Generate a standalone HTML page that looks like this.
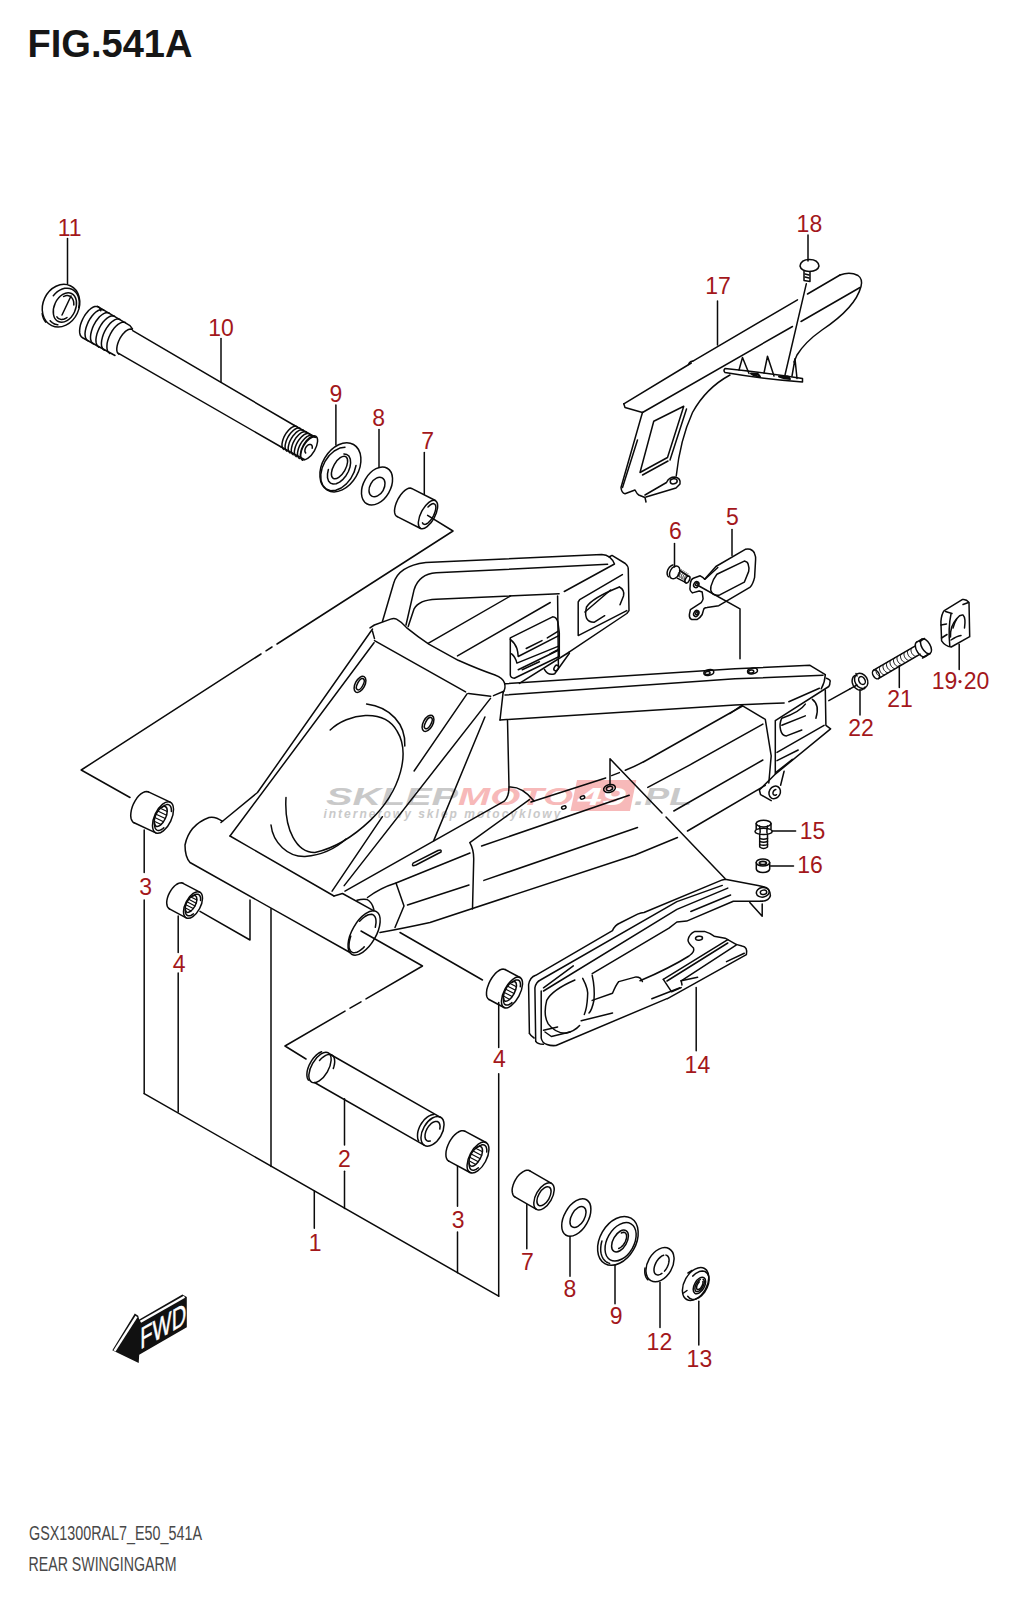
<!DOCTYPE html>
<html><head><meta charset="utf-8"><style>
html,body{margin:0;padding:0;background:#fff;}
svg{display:block;}
.l{font-family:"Liberation Sans",sans-serif;font-size:23px;fill:#a3171b;text-anchor:middle;}
.d{fill:none;stroke:#0a0a0a;stroke-width:1.5;stroke-linecap:round;stroke-linejoin:round;}
</style></head><body>
<svg width="1020" height="1600" viewBox="0 0 1020 1600">
<rect width="1020" height="1600" fill="#fff"/>
<text x="27.5" y="57" font-family="Liberation Sans" font-weight="bold" font-size="39.5" fill="#161616" textLength="165" lengthAdjust="spacingAndGlyphs">FIG.541A</text>
<text x="29" y="1539.5" font-family="Liberation Sans" font-size="19.5" fill="#484848" textLength="173" lengthAdjust="spacingAndGlyphs">GSX1300RAL7_E50_541A</text>
<text x="28.5" y="1571" font-family="Liberation Sans" font-size="19.5" fill="#484848" textLength="148" lengthAdjust="spacingAndGlyphs">REAR SWINGINGARM</text>
<g class="l">
<text x="69.7" y="235.6">11</text>
<text x="221" y="335.5">10</text>
<text x="335.8" y="402">9</text>
<text x="378.6" y="425.8">8</text>
<text x="427.6" y="448.8">7</text>
<text x="718.1" y="294">17</text>
<text x="809.4" y="231.5">18</text>
<text x="675.5" y="539">6</text>
<text x="732.5" y="525.3">5</text>
<text x="900" y="707.3">21</text>
<text x="861" y="735.6">22</text>
<text x="812.5" y="839">15</text>
<text x="810" y="872.8">16</text>
<text x="145.6" y="895.3">3</text>
<text x="179.2" y="972.4">4</text>
<text x="697.4" y="1072.8">14</text>
<text x="499.4" y="1067.3">4</text>
<text x="344.4" y="1166.5">2</text>
<text x="458.1" y="1227.8">3</text>
<text x="315.2" y="1251.2">1</text>
<text x="527.5" y="1269.8">7</text>
<text x="570" y="1297.3">8</text>
<text x="616.2" y="1324">9</text>
<text x="659.4" y="1349.8">12</text>
<text x="699.4" y="1366.5">13</text>
<text x="944.5" y="689.3">19</text>
<text x="976.5" y="689.3">20</text>
</g>
<circle cx="960" cy="681.6" r="1.6" fill="#a3171b"/>
<!-- watermark -->
<g font-family="Liberation Sans" font-weight="bold" font-style="italic">
<text x="326" y="804.5" font-size="23" fill="#c9c9c9" textLength="132" lengthAdjust="spacingAndGlyphs">SKLEP</text>
<text x="458" y="804.5" font-size="23" fill="#f7b9b9" textLength="115" lengthAdjust="spacingAndGlyphs">MOTO</text>
<polygon points="577,780 636.3,780 630,811 570.5,811" fill="#f7b9b9"/>
<text x="578" y="804.5" font-size="23" fill="#ffffff" textLength="48" lengthAdjust="spacingAndGlyphs">49</text>
<text x="634" y="804.5" font-size="23" fill="#c9c9c9" textLength="58" lengthAdjust="spacingAndGlyphs">.PL</text>
<text x="323.4" y="818" font-size="12" fill="#c9c9c9" textLength="237" lengthAdjust="spacing">internetowy sklep motocyklowy</text>
</g>
<!-- FWD -->
<polygon points="112.3,1350.3 134.8,1313.5 138.2,1315.8 139.2,1319.4 182.4,1294.4 186.8,1296.9 186.8,1327.3 139.2,1354.7 138.7,1363" fill="#111"/>
<line x1="136.5" y1="1316.5" x2="114.5" y2="1350.8" stroke="#fff" stroke-width="2.4"/>
<line x1="140.5" y1="1321.8" x2="184.5" y2="1296.8" stroke="#fff" stroke-width="2.4"/>
<text transform="matrix(0.866,-0.5,0,1,140.3,1349.5)" font-family="Liberation Sans" font-size="30" fill="#fff" stroke="#fff" stroke-width="0.5" textLength="53" lengthAdjust="spacingAndGlyphs">FWD</text>

<g class="d">
<path d="M67.5,238.5 L67.5,284.0"/>
<path d="M221.0,338.5 L221.0,382.0"/>
<path d="M335.9,405.0 L335.9,445.0"/>
<path d="M379.0,429.5 L379.0,467.5"/>
<path d="M424.3,452.5 L424.3,494.5"/>
<path d="M732.0,529.5 L732.0,555.5"/>
<path d="M674.5,543.5 L674.5,567.0"/>
<path d="M717.5,301.0 L717.5,345.0"/>
<path d="M808.0,235.0 L808.0,261.0"/>
<path d="M959.2,644.3 L959.2,669.4"/>
<path d="M899.3,665.5 L899.3,687.5"/>
<path d="M860.0,690.0 L860.0,715.0"/>
<path d="M772.0,831.0 L795.6,831.0"/>
<path d="M770.6,865.9 L793.5,865.9"/>
<path d="M696.2,987.5 L696.2,1050.8"/>
<path d="M427.6,515.3 L453.0,531.0 L277.0,644.0"/>
<path d="M272.0,647.0 L266.0,650.8"/>
<path d="M261.0,654.0 L81.2,770.0 L130.0,797.5"/>
<path d="M200.0,911.3 L250.0,940.0 L250.0,900.0"/>
<path d="M144.2,830.0 L144.2,872.5"/>
<path d="M144.2,900.0 L144.2,1093.6"/>
<path d="M178.2,916.0 L178.2,952.4"/>
<path d="M178.2,973.0 L178.2,1112.0"/>
<path d="M271.0,908.8 L271.0,1166.5"/>
<path d="M314.3,1191.0 L314.3,1228.2"/>
<path d="M344.5,1098.8 L344.5,1145.0"/>
<path d="M344.5,1171.3 L344.5,1208.5"/>
<path d="M457.5,1166.3 L457.5,1206.3"/>
<path d="M457.5,1232.0 L457.5,1272.7"/>
<path d="M498.7,1002.5 L498.7,1047.5"/>
<path d="M498.7,1073.8 L498.7,1296.2"/>
<path d="M144.2,1093.6 L498.7,1296.2"/>
<path d="M361.0,931.0 L422.5,966.0 L366.0,998.9"/>
<path d="M361.0,1001.8 L350.0,1008.2"/>
<path d="M345.0,1011.1 L285.0,1046.0 L306.0,1059.0"/>
<path d="M400.0,932.5 L482.5,980.0"/>
<path d="M850.0,688.8 L857.0,685.0"/>
<path d="M699.0,586.0 L740.0,608.8 L740.0,658.8"/>
<path d="M806.3,283.8 L785.0,375.0"/>
<path d="M526.8,1204.5 L526.8,1248.8"/>
<path d="M570.0,1236.5 L570.0,1276.3"/>
<path d="M615.0,1265.0 L615.0,1303.8"/>
<path d="M660.0,1282.5 L660.0,1327.5"/>
<path d="M698.8,1301.3 L698.8,1345.0"/>
<path d="M610.0,785.0 L610.0,758.8 L662.0,812.9"/>
<path d="M666.0,817.0 L725.0,878.5"/>
<ellipse cx="61.0" cy="305.7" rx="22.0" ry="18.0" transform="rotate(-65 61.0 305.7)"/>
<path d="M53.3,295.7 L55.3,293.5 L57.4,291.6 L59.8,290.1 L62.2,289.0 L64.7,288.3 L67.2,288.2 L69.6,288.5 L71.8,289.2 L73.9,290.5 L75.6,292.1 L77.1,294.1 L78.2,296.4 L78.9,299.0 L79.3,301.8 L79.2,304.7 L78.7,307.6"/>
<path d="M57.8,324.8 L57.3,324.7 L56.7,324.6 L56.2,324.5 L55.7,324.3 L55.1,324.2 L54.6,324.0 L54.1,323.7 L53.6,323.5 L53.1,323.2 L52.7,322.9 L52.2,322.6 L51.8,322.2 L51.3,321.9 L50.9,321.5 L50.5,321.1 L50.2,320.7"/>
<ellipse cx="64.9" cy="307.5" rx="15.5" ry="10.6" transform="rotate(-65 64.9 307.5)"/>
<path d="M63.6,296.5 L64.6,296.1 L65.6,295.8 L66.6,295.6 L67.6,295.6 L68.5,295.8 L69.4,296.0 L70.3,296.4 L71.0,297.0 L71.7,297.6 L72.3,298.4 L72.8,299.3 L73.2,300.3 L73.6,301.4 L73.7,302.5 L73.8,303.7 L73.8,304.9"/>
<path d="M67.0,317.5 L66.3,318.0 L65.6,318.4 L64.9,318.7 L64.2,319.0 L63.5,319.2 L62.8,319.3 L62.1,319.4 L61.4,319.4 L60.7,319.3 L60.1,319.2 L59.5,318.9 L58.9,318.7 L58.3,318.3 L57.8,317.9 L57.3,317.4 L56.9,316.9"/>
<path d="M71.0,296.0 L62.0,315.0"/>
<path d="M45.7,322.1 L45.4,321.6 L45.0,321.2 L44.7,320.7 L44.4,320.3 L44.2,319.8 L43.9,319.3 L43.6,318.7 L43.4,318.2 L43.2,317.7 L43.0,317.1 L42.8,316.5 L42.7,316.0 L42.5,315.4 L42.4,314.8 L42.3,314.2 L42.2,313.6"/>
<path d="M82.4,337.6 L81.2,336.6 L80.2,335.0 L79.7,332.9 L79.6,330.5 L79.9,327.7 L80.5,324.7 L81.6,321.6 L83.0,318.5 L84.7,315.5 L86.6,312.9 L88.6,310.5 L90.7,308.7 L92.8,307.3 L94.8,306.5 L96.6,306.4 L98.2,306.8"/>
<path d="M98.2,306.8 L98.4,306.9 L98.6,307.1 L98.8,307.2 L99.0,307.4 L99.2,307.6 L99.4,307.8 L99.6,308.0 L99.8,308.3 L99.9,308.5 L100.1,308.8 L100.2,309.1 L100.4,309.4 L100.5,309.7 L100.6,310.0 L100.7,310.4 L100.8,310.7"/>
<path d="M87.9,340.8 L86.6,339.7 L85.7,338.2 L85.2,336.1 L85.0,333.6 L85.3,330.8 L86.0,327.8 L87.1,324.7 L88.4,321.6 L90.1,318.7 L92.0,316.0 L94.0,313.7 L96.1,311.8 L98.2,310.5 L100.2,309.7 L102.0,309.5 L103.6,309.9"/>
<path d="M93.4,343.9 L92.1,342.9 L91.2,341.3 L90.6,339.2 L90.5,336.8 L90.8,334.0 L91.5,331.0 L92.5,327.9 L93.9,324.8 L95.6,321.8 L97.5,319.2 L99.5,316.8 L101.6,315.0 L103.7,313.6 L105.7,312.8 L107.5,312.7 L109.1,313.1"/>
<path d="M98.8,347.1 L97.5,346.0 L96.6,344.5 L96.1,342.4 L95.9,339.9 L96.2,337.1 L96.9,334.1 L98.0,331.0 L99.4,327.9 L101.0,325.0 L102.9,322.3 L105.0,320.0 L107.1,318.1 L109.1,316.8 L111.1,316.0 L112.9,315.8 L114.5,316.2"/>
<path d="M104.3,350.2 L103.0,349.2 L102.1,347.6 L101.5,345.5 L101.4,343.1 L101.7,340.3 L102.4,337.3 L103.4,334.2 L104.8,331.1 L106.5,328.1 L108.4,325.5 L110.4,323.1 L112.5,321.3 L114.6,319.9 L116.6,319.1 L118.4,319.0 L120.0,319.4"/>
<path d="M109.7,353.4 L108.5,352.3 L107.5,350.8 L107.0,348.7 L106.9,346.2 L107.1,343.4 L107.8,340.4 L108.9,337.3 L110.3,334.2 L111.9,331.3 L113.8,328.6 L115.9,326.3 L118.0,324.4 L120.1,323.1 L122.0,322.3 L123.9,322.1 L125.4,322.5"/>
<path d="M97.5,306.4 L130.0,325.6 L132.5,329.0"/>
<path d="M83.0,338.0 L115.0,355.5"/>
<path d="M118.9,354.2 L117.9,353.3 L117.2,352.1 L116.8,350.4 L116.8,348.4 L117.1,346.1 L117.7,343.7 L118.6,341.2 L119.8,338.7 L121.2,336.4 L122.7,334.3 L124.4,332.4 L126.1,330.9 L127.8,329.8 L129.4,329.2 L130.8,329.1 L132.1,329.4"/>
<path d="M132.7,330.7 L294.5,425.5"/>
<path d="M118.6,353.4 L281.2,447.0"/>
<path d="M294.5,425.5 L314.9,437.0"/>
<path d="M281.2,447.0 L304.7,459.6"/>
<path d="M283.9,449.4 L283.0,448.6 L282.3,447.4 L282.0,445.8 L282.0,443.9 L282.4,441.8 L283.0,439.5 L283.9,437.2 L285.1,434.9 L286.5,432.7 L288.1,430.8 L289.7,429.1 L291.4,427.7 L293.0,426.8 L294.5,426.3 L295.9,426.2 L297.1,426.6"/>
<path d="M287.0,451.2 L286.1,450.4 L285.4,449.2 L285.1,447.6 L285.1,445.7 L285.5,443.6 L286.1,441.3 L287.0,439.0 L288.2,436.7 L289.6,434.5 L291.2,432.6 L292.8,430.9 L294.5,429.5 L296.1,428.6 L297.6,428.1 L299.0,428.0 L300.2,428.4"/>
<path d="M290.1,453.0 L289.2,452.2 L288.5,451.0 L288.2,449.4 L288.2,447.5 L288.6,445.4 L289.2,443.1 L290.1,440.8 L291.3,438.5 L292.7,436.3 L294.3,434.4 L295.9,432.7 L297.6,431.3 L299.2,430.4 L300.7,429.9 L302.1,429.8 L303.3,430.2"/>
<path d="M293.2,454.8 L292.3,454.0 L291.6,452.8 L291.3,451.2 L291.3,449.3 L291.7,447.2 L292.3,444.9 L293.2,442.6 L294.4,440.3 L295.8,438.1 L297.4,436.2 L299.0,434.5 L300.7,433.1 L302.3,432.2 L303.8,431.7 L305.2,431.6 L306.4,432.0"/>
<path d="M296.3,456.6 L295.4,455.8 L294.7,454.6 L294.4,453.0 L294.4,451.1 L294.8,449.0 L295.4,446.7 L296.3,444.4 L297.5,442.1 L298.9,439.9 L300.5,438.0 L302.1,436.3 L303.8,434.9 L305.4,434.0 L306.9,433.5 L308.3,433.4 L309.5,433.8"/>
<path d="M299.4,458.4 L298.5,457.6 L297.8,456.4 L297.5,454.8 L297.5,452.9 L297.9,450.8 L298.5,448.5 L299.4,446.2 L300.6,443.9 L302.0,441.7 L303.6,439.8 L305.2,438.1 L306.9,436.7 L308.5,435.8 L310.0,435.3 L311.4,435.2 L312.6,435.6"/>
<path d="M302.5,460.2 L301.6,459.4 L300.9,458.2 L300.6,456.6 L300.6,454.7 L301.0,452.6 L301.6,450.3 L302.5,448.0 L303.7,445.7 L305.1,443.5 L306.7,441.6 L308.3,439.9 L310.0,438.5 L311.6,437.6 L313.1,437.1 L314.5,437.0 L315.7,437.4"/>
<ellipse cx="309.0" cy="447.8" rx="13.4" ry="6.2" transform="rotate(-60 309.0 447.8)"/>
<path d="M305.7,453.0 L305.2,452.3 L304.9,451.4 L304.9,450.3 L305.1,449.2 L305.5,448.0 L306.1,446.9 L306.9,446.0 L307.8,445.2 L308.7,444.7 L309.6,444.4 L310.5,444.4 L311.2,444.7 L311.8,445.3 L312.2,446.1 L312.3,447.1 L312.2,448.2"/>
<ellipse cx="340.4" cy="467.3" rx="26.3" ry="18.2" transform="rotate(-60 340.4 467.3)"/>
<path d="M356.0,465.5 L354.1,472.2 L350.8,478.5 L346.4,483.9 L341.2,488.0 L335.8,490.3 L330.6,490.7 L326.2,489.0 L322.9,485.5 L321.0,480.4 L320.8,474.3 L322.2,467.7 L325.1,461.2 L329.2,455.5 L334.2,451.0 L339.7,448.1 L345.0,447.2"/>
<path d="M343.9,453.9 L346.8,454.5 L349.0,456.2 L350.3,459.1 L350.6,462.8 L350.0,467.1 L348.4,471.5 L346.0,475.7 L343.0,479.3 L339.6,482.1 L336.2,483.7 L333.1,484.0 L330.4,483.1 L328.5,480.9 L327.5,477.7 L327.5,473.8 L328.4,469.4"/>
<ellipse cx="339.5" cy="467.5" rx="12.5" ry="6.0" transform="rotate(-60 339.5 467.5)"/>
<ellipse cx="377.0" cy="486.0" rx="20.5" ry="13.5" transform="rotate(-60 377.0 486.0)"/>
<ellipse cx="377.0" cy="487.0" rx="10.5" ry="7.0" transform="rotate(-60 377.0 487.0)"/>
<ellipse cx="428.0" cy="514.5" rx="15.8" ry="7.0" transform="rotate(-62 428.0 514.5)"/>
<path d="M428.0,507.0 L430.0,505.1 L431.8,504.0 L433.5,503.6 L434.7,504.1 L435.6,505.4 L435.9,507.3 L435.6,509.8 L434.8,512.6 L433.6,515.6 L432.0,518.4 L430.1,520.9 L428.2,522.8 L426.3,524.0 L424.6,524.4 L423.3,524.0 L422.5,522.8"/>
<path d="M412.0,488.6 L435.4,500.5"/>
<path d="M397.2,516.6 L420.6,528.5"/>
<path d="M397.3,516.6 L396.1,515.9 L395.2,514.6 L394.7,512.9 L394.5,510.7 L394.8,508.2 L395.4,505.5 L396.4,502.6 L397.7,499.7 L399.3,497.0 L401.0,494.4 L402.9,492.2 L404.9,490.4 L406.8,489.1 L408.6,488.3 L410.2,488.1 L411.6,488.4"/>
<path d="M382.5,621.3 L393.5,583.8 Q398,566 425.9,562.5 L601.8,554.4 Q611,555 614.5,564 L564.3,591.5"/>
<path d="M406,625 L414.1,589.7 Q419,574 436.2,572.8 L607.6,564.3"/>
<path d="M408.2,626.5 L414.1,608.8 Q419,600 436.2,599.3 L559.1,593.7"/>
<path d="M609,557 L612,555.4 L625.3,563.5 Q628.5,566 628.3,570 L629,610.6 L626.8,613.5 L569.4,651.8"/>
<path d="M622.4,574.6 L579.7,599.6 L578.2,602 L578.2,635.6 L626.8,610.6"/>
<path d="M619.4,587 Q592,598 586.5,607 Q583,622 594,622.3 L604.7,615.7"/>
<path d="M619.4,587 Q625,590 623.5,596 L620,604.7"/>
<path d="M584.9,612.0 L610.6,590.0"/>
<path d="M557.6,595.9 L558.4,666.5"/>
<path d="M428.1,643.4 L510.6,595.9"/>
<path d="M457.5,655.9 L550.3,602.5"/>
<path d="M510.3,637.9 L552.6,616.8 Q556.5,617 557.9,622 L559.3,632.6 L559.3,656.5 L514.3,678.2 Q510.5,678 510.3,675 Z"/>
<path d="M510.3,639.3 Q515,643 516.9,648.5 Q518,652 518.2,656.5 L559.3,635.3"/>
<path d="M526.2,648.5 L542.0,640.6"/>
<path d="M547.3,637.9 L557.9,631.3"/>
<path d="M511.6,653.8 Q515.5,657 516.9,663.1 L559.3,645.9"/>
<path d="M518.2,669.7 L559.3,649.8"/>
<path d="M522.2,669.7 L539.4,661.8"/>
<path d="M550.0,653.8 L559.3,649.0"/>
<path d="M544.4,669.4 Q548,676 554.7,673.8 L569.4,653.2"/>
<ellipse cx="556.2" cy="668.0" rx="3.0" ry="2.0" transform="rotate(-60 556.2 668.0)"/>
<path d="M519.4,683.4 L569.4,652.0"/>
<path d="M370,627.9 L374.4,625 L390.6,619.1 Q394,618 396.5,619.1 Q402,622 406.8,627.9 Q418,637 428.8,644.1 L458.2,660.3 Q480,670 495,675 Q503,678 504.5,683 Q506,688 503.1,692.6"/>
<path d="M372.4,631.0 L374.5,638.6"/>
<path d="M374.5,640.6 L465.6,691.9"/>
<path d="M468.5,693.4 L490.6,696.3"/>
<path d="M493.5,695.6 L503.8,691.2"/>
<path d="M372.5,629.0 L257.5,792.5 L221.0,822.5"/>
<path d="M374.0,642.7 L230.0,836.0"/>
<path d="M230.0,836.0 L334.0,896.0"/>
<path d="M467.2,693.7 L414.1,771.0"/>
<path d="M382.4,816.7 L332.1,891.2"/>
<path d="M490.5,698.4 L344.2,885.6"/>
<path d="M484.9,717.0 L433.6,840.9"/>
<ellipse cx="360.0" cy="684.4" rx="8.8" ry="4.8" transform="rotate(-62 360.0 684.4)"/>
<ellipse cx="360.3" cy="684.2" rx="6.2" ry="2.8" transform="rotate(-62 360.3 684.2)"/>
<ellipse cx="428.0" cy="723.3" rx="8.8" ry="4.8" transform="rotate(-62 428.0 723.3)"/>
<ellipse cx="428.3" cy="723.1" rx="6.2" ry="2.8" transform="rotate(-62 428.3 723.1)"/>
<path d="M330.2,730 C348,713 384,708 397,731 C410,752 402,790 370.3,820.4 C356,834 336,848 315,852.5 C297,853 284,830 286,797.5"/>
<path d="M366.6,704 C390,707 406,724 404.8,746"/>
<path d="M346,839 C334,850 322,855 305,856.5 C288,857 273,843 271,825"/>
<path d="M222.5,821.3 Q215,816 209,817.5 Q189,825 185,845 Q185,857 190,862.5 L350,952.5"/>
<path d="M334,896 L342.5,893.5 L373.9,910.8"/>
<path d="M357,900.2 Q362,898.8 366.9,899.4 Q372,902 373.9,909.6"/>
<ellipse cx="364.1" cy="933.0" rx="24.7" ry="11.9" transform="rotate(-60 364.1 933.0)"/>
<path d="M359.6,921.3 L361.4,919.5 L363.2,917.8 L365.0,916.5 L366.7,915.5 L368.4,914.7 L369.9,914.4 L371.4,914.3 L372.6,914.6 L373.7,915.2 L374.6,916.2 L375.3,917.4 L375.8,919.0 L376.0,920.8 L376.0,922.8 L375.7,925.0 L375.3,927.3"/>
<path d="M364.2,946.9 L362.4,948.7 L360.5,950.2 L358.6,951.4 L356.9,952.2 L355.2,952.6 L353.7,952.7 L352.4,952.4 L351.2,951.7 L350.3,950.7 L349.6,949.4 L349.1,947.7 L349.0,945.8 L349.1,943.6 L349.4,941.2 L350.0,938.7 L350.8,936.1"/>
<path d="M507.5,720 L509,787 Q509,797 504.3,801.2 L345,891.2"/>
<path d="M509,787 Q522,786 534,801"/>
<path d="M529.4,799.6 L469.8,842.7 Q474,850 473.7,860 L472.5,909"/>
<path d="M531.0,802.0 L605.7,778.0"/>
<path d="M611.6,775.6 L619.4,772.6"/>
<path d="M625.3,770.2 Q636,766 646,760.5 L742.5,706"/>
<path d="M481.6,846.0 L629.2,795.2"/>
<path d="M647.8,787.4 L690,764.8 L762.9,724.1"/>
<path d="M483.9,880.4 L637.5,827.5"/>
<path d="M673.8,811.0 L762.9,760.0"/>
<path d="M380,932.5 Q400,929 430,922.5 L635,855 L677.5,837.5"/>
<path d="M687.5,831.0 L765.3,785.3"/>
<path d="M367.5,897.5 Q380,888 396,883 L470,853"/>
<path d="M407.5,905.0 L469.0,885.0"/>
<path d="M396.0,883.0 L404.0,906.0 L395.0,927.5"/>
<path d="M413.1,863.2 L438,850.5 Q442,849 441,852 L416,865 Q411,867 413.1,863.2 Z"/>
<path d="M505.0,683.8 L735.0,668.8 L810.0,665.3 L825.3,674.7"/>
<path d="M825.3,674.7 Q825,682 821.2,688.8"/>
<path d="M505.0,695.0 L735.0,678.8 L823.0,675.3"/>
<path d="M500.0,720.0 L735.0,705.0 L784.1,702.9"/>
<path d="M788.8,701.8 L819.4,688.2"/>
<path d="M503.1,692.6 L500,720"/>
<path d="M826.5,678.2 Q831,680 830,682 Q830,685 828.8,686.5 L775.3,720.6 L775.3,773.5"/>
<path d="M825.3,690 L825.9,725.3 L830.6,728.8 L774.7,774.7 L759.4,790"/>
<path d="M741.8,705.3 L765.3,719.4 L771.2,755.9 L768.8,783"/>
<path d="M777.0,752.4 L824.1,725.3"/>
<path d="M777.0,760.6 L798.2,750.0"/>
<path d="M775.9,772.4 L792.4,759.4"/>
<path d="M812.4,699.4 Q820,705 815.9,718.2"/>
<path d="M805.3,704.1 Q800,712 781.8,718.2 Q779,724 780.6,730 Q782,736 786.5,735.9 L801.8,730"/>
<path d="M781.8,725.3 L805.3,715.9"/>
<path d="M730.0,713.5 L741.8,705.3"/>
<path d="M828.8,700.6 L850.0,688.8"/>
<path d="M759.4,790 L760.6,794.7 L771.2,800.6"/>
<ellipse cx="774.7" cy="792.4" rx="6.5" ry="5.5" transform="rotate(-60 774.7 792.4)"/>
<path d="M776.5,794.7 L775.9,795.0 L775.4,795.2 L774.8,795.2 L774.3,795.1 L773.8,794.9 L773.4,794.5 L773.2,794.0 L773.0,793.4 L773.0,792.8 L773.1,792.1 L773.4,791.5 L773.7,790.9 L774.2,790.4 L774.7,790.0 L775.2,789.7 L775.8,789.6"/>
<path d="M784.1,771.2 L780.6,785.3"/>
<ellipse cx="609.5" cy="788.5" rx="6.0" ry="3.8" transform="rotate(-15 609.5 788.5)"/>
<ellipse cx="609.5" cy="788.5" rx="3.2" ry="2.0" transform="rotate(-15 609.5 788.5)"/>
<ellipse cx="582.5" cy="797.5" rx="2.3" ry="1.5" transform="rotate(-20 582.5 797.5)"/>
<ellipse cx="563.8" cy="807.5" rx="2.3" ry="1.5" transform="rotate(-20 563.8 807.5)"/>
<ellipse cx="708.8" cy="672.5" rx="5.0" ry="2.8" transform="rotate(-10 708.8 672.5)"/>
<ellipse cx="707.5" cy="673.0" rx="2.6" ry="1.5" transform="rotate(-10 707.5 673.0)"/>
<ellipse cx="752.5" cy="671.0" rx="5.0" ry="2.8" transform="rotate(-10 752.5 671.0)"/>
<ellipse cx="751.2" cy="671.5" rx="2.6" ry="1.5" transform="rotate(-10 751.2 671.5)"/>
<ellipse cx="163.0" cy="817.5" rx="17.0" ry="8.5" transform="rotate(-65 163.0 817.5)"/>
<path d="M134.1,822.8 L132.7,821.8 L131.7,820.2 L131.0,818.2 L130.7,815.7 L130.9,812.9 L131.4,809.9 L132.3,806.8 L133.5,803.8 L135.1,800.8 L136.9,798.1 L138.8,795.8 L140.9,793.9 L142.9,792.6 L144.9,791.7 L146.8,791.5 L148.4,791.9"/>
<path d="M148.4,791.9 L170.2,802.1"/>
<path d="M134.1,822.8 L155.8,832.9"/>
<path d="M162.2,807.2 L163.1,806.4 L164.0,805.8 L164.9,805.2 L165.8,804.9 L166.6,804.6 L167.5,804.6 L168.2,804.6 L168.9,804.9 L169.5,805.2 L170.1,805.8 L170.5,806.4 L170.9,807.2 L171.2,808.2 L171.3,809.2 L171.4,810.3 L171.4,811.5"/>
<path d="M163.8,827.8 L162.9,828.6 L162.0,829.2 L161.1,829.8 L160.2,830.1 L159.4,830.4 L158.5,830.4 L157.8,830.4 L157.1,830.1 L156.5,829.8 L155.9,829.2 L155.5,828.6 L155.1,827.8 L154.8,826.8 L154.7,825.8 L154.6,824.7 L154.6,823.5"/>
<ellipse cx="160.7" cy="816.4" rx="10.9" ry="5.1" transform="rotate(-65 160.7 816.4)"/>
<path d="M154.2,821.3 L161.1,824.5" stroke-width="1.1"/>
<path d="M154.8,817.6 L163.5,821.7" stroke-width="1.1"/>
<path d="M156.1,814.3 L165.3,818.6" stroke-width="1.1"/>
<path d="M157.8,811.1 L166.6,815.2" stroke-width="1.1"/>
<path d="M160.3,808.3 L167.2,811.5" stroke-width="1.1"/>
<ellipse cx="193.0" cy="905.0" rx="14.5" ry="7.5" transform="rotate(-62 193.0 905.0)"/>
<path d="M169.4,908.9 L168.3,907.9 L167.4,906.6 L166.9,904.8 L166.7,902.6 L166.9,900.3 L167.5,897.7 L168.4,895.1 L169.6,892.6 L171.1,890.1 L172.7,887.9 L174.5,886.0 L176.4,884.5 L178.2,883.5 L180.0,882.9 L181.6,882.8 L183.0,883.3"/>
<path d="M183.0,883.3 L199.8,892.2"/>
<path d="M169.4,908.9 L186.2,917.8"/>
<path d="M192.6,896.1 L193.5,895.5 L194.3,895.0 L195.1,894.6 L195.9,894.3 L196.6,894.2 L197.3,894.2 L198.0,894.3 L198.6,894.5 L199.1,894.9 L199.6,895.3 L199.9,895.9 L200.2,896.6 L200.5,897.4 L200.6,898.3 L200.6,899.3 L200.5,900.4"/>
<path d="M193.4,913.9 L192.5,914.5 L191.7,915.0 L190.9,915.4 L190.1,915.7 L189.4,915.8 L188.7,915.8 L188.0,915.7 L187.4,915.5 L186.9,915.1 L186.4,914.7 L186.1,914.1 L185.8,913.4 L185.5,912.6 L185.4,911.7 L185.4,910.7 L185.5,909.6"/>
<ellipse cx="191.0" cy="903.9" rx="9.3" ry="4.5" transform="rotate(-62 191.0 903.9)"/>
<path d="M185.2,907.8 L191.1,910.9" stroke-width="1.1"/>
<path d="M185.8,904.7 L193.3,908.6" stroke-width="1.1"/>
<path d="M187.0,901.8 L195.0,906.1" stroke-width="1.1"/>
<path d="M188.7,899.2 L196.2,903.2" stroke-width="1.1"/>
<path d="M190.9,896.9 L196.9,900.1" stroke-width="1.1"/>
<ellipse cx="512.0" cy="992.5" rx="17.0" ry="7.8" transform="rotate(-62 512.0 992.5)"/>
<path d="M489.0,999.5 L487.8,998.5 L487.0,997.0 L486.5,995.0 L486.5,992.5 L486.8,989.8 L487.6,986.9 L488.7,983.9 L490.1,980.9 L491.8,978.0 L493.7,975.4 L495.7,973.1 L497.8,971.3 L499.8,970.0 L501.7,969.3 L503.5,969.1 L505.0,969.5"/>
<path d="M505.0,969.5 L520.0,977.5"/>
<path d="M489.0,999.5 L504.0,1007.5"/>
<path d="M512.1,982.4 L513.0,981.6 L513.9,981.0 L514.8,980.5 L515.7,980.1 L516.5,979.9 L517.2,979.9 L517.9,980.0 L518.5,980.2 L519.1,980.6 L519.6,981.1 L519.9,981.8 L520.2,982.6 L520.4,983.5 L520.5,984.5 L520.4,985.6 L520.3,986.8"/>
<path d="M511.9,1002.6 L511.0,1003.4 L510.1,1004.0 L509.2,1004.5 L508.3,1004.9 L507.5,1005.1 L506.8,1005.1 L506.1,1005.0 L505.5,1004.8 L504.9,1004.4 L504.4,1003.9 L504.1,1003.2 L503.8,1002.4 L503.6,1001.5 L503.5,1000.5 L503.6,999.4 L503.7,998.2"/>
<ellipse cx="509.9" cy="991.4" rx="10.9" ry="4.7" transform="rotate(-62 509.9 991.4)"/>
<path d="M503.5,996.1 L509.7,999.4" stroke-width="1.1"/>
<path d="M504.3,992.5 L512.1,996.6" stroke-width="1.1"/>
<path d="M505.8,989.2 L514.1,993.6" stroke-width="1.1"/>
<path d="M507.7,986.2 L515.5,990.3" stroke-width="1.1"/>
<path d="M510.2,983.4 L516.4,986.7" stroke-width="1.1"/>
<ellipse cx="478.0" cy="1157.5" rx="17.0" ry="8.5" transform="rotate(-62 478.0 1157.5)"/>
<path d="M448.8,1161.2 L447.5,1160.2 L446.6,1158.6 L446.0,1156.5 L445.9,1154.0 L446.1,1151.3 L446.8,1148.3 L447.9,1145.2 L449.3,1142.2 L451.0,1139.4 L452.9,1136.8 L455.0,1134.6 L457.1,1132.8 L459.3,1131.5 L461.3,1130.8 L463.2,1130.7 L464.8,1131.2"/>
<path d="M464.8,1131.2 L486.0,1142.5"/>
<path d="M448.8,1161.2 L470.0,1172.5"/>
<path d="M477.7,1147.2 L478.7,1146.5 L479.6,1145.8 L480.6,1145.4 L481.5,1145.0 L482.3,1144.8 L483.1,1144.8 L483.9,1144.9 L484.5,1145.2 L485.1,1145.6 L485.7,1146.2 L486.1,1146.8 L486.4,1147.7 L486.6,1148.6 L486.8,1149.6 L486.8,1150.8 L486.7,1152.0"/>
<path d="M478.3,1167.8 L477.3,1168.5 L476.4,1169.2 L475.4,1169.6 L474.5,1170.0 L473.7,1170.2 L472.9,1170.2 L472.1,1170.1 L471.5,1169.8 L470.9,1169.4 L470.3,1168.8 L469.9,1168.2 L469.6,1167.3 L469.4,1166.4 L469.2,1165.4 L469.2,1164.2 L469.3,1163.0"/>
<ellipse cx="475.7" cy="1156.3" rx="10.9" ry="5.1" transform="rotate(-62 475.7 1156.3)"/>
<path d="M469.0,1160.8 L475.8,1164.4" stroke-width="1.1"/>
<path d="M469.8,1157.2 L478.3,1161.7" stroke-width="1.1"/>
<path d="M471.2,1153.9 L480.3,1158.7" stroke-width="1.1"/>
<path d="M473.2,1150.9 L481.7,1155.4" stroke-width="1.1"/>
<path d="M475.7,1148.2 L482.5,1151.8" stroke-width="1.1"/>
<ellipse cx="432.5" cy="1131.3" rx="16.2" ry="9.5" transform="rotate(-60 432.5 1131.3)"/>
<path d="M430.3,1141.0 L428.3,1141.3 L426.7,1140.6 L425.5,1139.2 L425.0,1137.0 L425.1,1134.4 L425.8,1131.5 L427.1,1128.6 L428.9,1125.9 L431.0,1123.7 L433.2,1122.2 L435.4,1121.4 L437.3,1121.5 L438.8,1122.4 L439.7,1124.1 L440.1,1126.4 L439.8,1129.1"/>
<path d="M418.6,1140.9 L417.9,1139.3 L417.6,1137.5 L417.5,1135.6 L417.6,1133.5 L418.0,1131.2 L418.7,1129.0 L419.6,1126.7 L420.8,1124.5 L422.1,1122.5 L423.6,1120.6 L425.2,1118.8 L426.9,1117.4 L428.7,1116.2 L430.4,1115.3 L432.1,1114.7 L433.8,1114.5"/>
<path d="M440.5,1117.3 L330.5,1054.5"/>
<path d="M424.5,1145.3 L314.5,1082.5"/>
<ellipse cx="320.0" cy="1067.5" rx="16.8" ry="8.5" transform="rotate(-60 320.0 1067.5)"/>
<path d="M319.5,1060.5 L321.1,1058.8 L322.8,1057.3 L324.5,1056.1 L326.2,1055.1 L327.8,1054.6 L329.3,1054.3 L330.7,1054.5 L331.9,1055.0 L332.9,1055.8 L333.7,1056.9 L334.3,1058.3 L334.6,1060.0 L334.7,1061.9 L334.5,1064.0 L334.0,1066.2 L333.3,1068.5"/>
<path d="M308.4,1080.1 L307.7,1078.9 L307.2,1077.4 L306.9,1075.7 L306.9,1073.8 L307.1,1071.7 L307.6,1069.4 L308.3,1067.2 L309.3,1064.8 L310.5,1062.6 L311.8,1060.4 L313.3,1058.3 L314.9,1056.5 L316.5,1054.9 L318.2,1053.5 L319.9,1052.5 L321.6,1051.8"/>
<ellipse cx="544.0" cy="1196.3" rx="15.0" ry="8.0" transform="rotate(-60 544.0 1196.3)"/>
<path d="M514.8,1196.8 L513.6,1195.8 L512.8,1194.3 L512.3,1192.4 L512.1,1190.2 L512.4,1187.7 L513.1,1185.1 L514.1,1182.4 L515.4,1179.8 L517.0,1177.3 L518.8,1175.1 L520.8,1173.3 L522.8,1171.8 L524.7,1170.8 L526.6,1170.3 L528.4,1170.3 L529.8,1170.8"/>
<path d="M529.8,1170.8 L551.5,1183.3"/>
<path d="M514.8,1196.8 L536.5,1209.3"/>
<ellipse cx="544.0" cy="1196.3" rx="10.5" ry="5.5" transform="rotate(-60 544.0 1196.3)"/>
<ellipse cx="576.3" cy="1217.5" rx="20.5" ry="12.0" transform="rotate(-60 576.3 1217.5)"/>
<ellipse cx="578.0" cy="1217.0" rx="11.5" ry="6.5" transform="rotate(-60 578.0 1217.0)"/>
<ellipse cx="617.9" cy="1240.9" rx="26.2" ry="17.9" transform="rotate(-60 617.9 1240.9)"/>
<ellipse cx="620.6" cy="1241.8" rx="20.8" ry="13.4" transform="rotate(-60 620.6 1241.8)"/>
<path d="M609.6,1263.4 L608.3,1262.9 L607.0,1262.3 L605.8,1261.5 L604.8,1260.6 L603.8,1259.5 L603.0,1258.3 L602.3,1257.0 L601.7,1255.5 L601.2,1253.9 L600.9,1252.3 L600.7,1250.5 L600.7,1248.7 L600.8,1246.9 L601.0,1245.0 L601.4,1243.0 L601.9,1241.1"/>
<ellipse cx="620.0" cy="1241.0" rx="12.0" ry="6.8" transform="rotate(-60 620.0 1241.0)"/>
<path d="M621.3,1233.0 L622.5,1232.5 L623.7,1232.3 L624.7,1232.5 L625.5,1233.1 L626.1,1233.9 L626.5,1235.1 L626.6,1236.5 L626.5,1238.0 L626.1,1239.6 L625.5,1241.3 L624.6,1243.0 L623.6,1244.5 L622.4,1245.9 L621.2,1247.0 L619.9,1247.9 L618.7,1248.5"/>
<ellipse cx="660.0" cy="1264.7" rx="18.4" ry="12.3" transform="rotate(-60 660.0 1264.7)"/>
<path d="M647.8,1279.8 L647.4,1279.3 L647.0,1278.8 L646.6,1278.2 L646.2,1277.6 L645.9,1277.0 L645.6,1276.3 L645.4,1275.6 L645.2,1274.8 L645.0,1274.1 L644.9,1273.3 L644.8,1272.4 L644.8,1271.6 L644.8,1270.8 L644.8,1269.9 L644.9,1269.0 L645.0,1268.1"/>
<path d="M666.0,1255.1 L666.8,1255.4 L667.4,1255.8 L668.0,1256.3 L668.4,1257.1 L668.8,1257.9 L669.0,1258.9 L669.1,1260.0 L669.0,1261.2 L668.8,1262.4 L668.5,1263.7 L668.1,1265.0 L667.6,1266.3 L666.9,1267.6 L666.2,1268.8 L665.4,1270.0 L664.5,1271.1"/>
<path d="M661.9,1273.4 L660.3,1274.4 L658.7,1274.9 L657.3,1274.9 L656.0,1274.5 L655.0,1273.7 L654.3,1272.4 L654.0,1270.7 L654.0,1268.8 L654.4,1266.7 L655.1,1264.6 L656.1,1262.4 L657.3,1260.4 L658.8,1258.6 L660.4,1257.1 L662.0,1255.9 L663.7,1255.2"/>
<ellipse cx="695.6" cy="1284.0" rx="17.9" ry="11.2" transform="rotate(-60 695.6 1284.0)"/>
<path d="M692.7,1276.1 L695.9,1273.3 L699.2,1271.6 L702.4,1271.0 L705.2,1271.6 L707.3,1273.4 L708.7,1276.2 L709.1,1279.8 L708.5,1283.8 L707.0,1288.0 L704.8,1291.9 L701.9,1295.3 L698.6,1297.8 L695.3,1299.2 L692.2,1299.4 L689.6,1298.3 L687.7,1296.2"/>
<ellipse cx="699.4" cy="1285.5" rx="9.0" ry="5.0" transform="rotate(-60 699.4 1285.5)"/>
<path d="M703.1,1279.2 L704.0,1280.2 L704.3,1281.8 L704.1,1283.8 L703.3,1286.0 L702.1,1288.1 L700.6,1289.9 L698.9,1291.1 L697.4,1291.6 L696.1,1291.4 L695.2,1290.4 L694.9,1288.8 L695.1,1286.8 L695.9,1284.6 L697.1,1282.5 L698.6,1280.7 L700.3,1279.5"/>
<path d="M702.9,1281.4 L703.0,1282.4 L702.9,1283.6 L702.5,1284.9 L701.9,1286.3 L701.0,1287.5 L700.1,1288.6 L699.1,1289.3 L698.2,1289.6 L697.4,1289.5 L696.8,1289.0 L696.6,1288.1 L696.6,1287.0 L696.9,1285.6 L697.5,1284.3 L698.3,1283.0 L699.2,1281.9"/>
<path d="M688.0,1273.0 L692.0,1270.5"/>
<path d="M683.5,1293.0 L687.0,1290.5"/>
<path d="M529.4,1033.3 L528.6,984.7 Q530,977 535.7,975.3 L612.5,930.6 Q615,925 620,923 L637.6,914.1 Q641,912.5 644,912.5 L722.3,879.9 L725.1,879.2 L758,885.4 L763.5,886.8"/>
<path d="M534.1,1038 Q531,1036 529.4,1033.3"/>
<path d="M535.7,1041.2 L534.9,987.8 Q536,982 540.4,980 L676.9,901.6 L722.3,885.4"/>
<path d="M543.5,987.8 L573.3,965.9"/>
<path d="M543.5,991 L676.9,909.4 L727.8,888.1"/>
<path d="M690.8,911.5 L730.6,895.0"/>
<path d="M592.2,973.7 L669.0,928.2 L676.9,922.0 L686.7,921.1 L733.3,901.2 L760.8,901.2"/>
<path d="M763.5,886.8 Q770,888 770.4,895.7 Q769,901 760.8,901.2"/>
<ellipse cx="762.8" cy="892.3" rx="6.5" ry="4.8" transform="rotate(-10 762.8 892.3)"/>
<ellipse cx="763.5" cy="892.3" rx="3.2" ry="2.2" transform="rotate(-10 763.5 892.3)"/>
<path d="M749.8,902.5 L762.2,916.3 L762.2,903.9"/>
<path d="M541.2,991 L541.2,1038 Q542,1043 547,1044.5 Q551,1046 556,1045.5 L667,998.6"/>
<path d="M543.5,1044.3 Q537,1044 535.7,1041.2"/>
<path d="M592.2,1000.4 L612.5,993.3 Q616,985 618.8,981.6 L636.1,976.9 Q641,977 642.4,981.6"/>
<path d="M663.3,979.4 L727.8,939.6 M667,981 L727.8,943 M681.2,980.8 L736.1,945.1"/>
<path d="M663.3,979.4 L671.6,991.8 L681.2,987.6 M681.2,980.8 L682,985"/>
<path d="M681.2,980.8 L697.6,977.3"/>
<path d="M726.5,961.6 L744.3,953.3"/>
<path d="M667.5,998.6 L746.4,954.7 Q748,947 742,946 L736.1,944.4"/>
<path d="M640,980.8 Q670,968 689,956 Q695,952 693.5,948 Q688,943 688,940 Q689,934 694.9,931.4 L704.5,931.4 Q710,933 714.1,936.2 L725.1,938.2 L736.1,944.4"/>
<ellipse cx="699.0" cy="938.2" rx="3.5" ry="2.0" transform="rotate(-5 699.0 938.2)"/>
<path d="M574.9,980 Q552,990 546.7,1000.4 Q543,1015 548.2,1023.9 Q555,1033 565.5,1033.3 Q575,1031 579.6,1025.5"/>
<path d="M582.7,978.4 Q589,990 587.5,997.3 Q587,1008 584.3,1014.5"/>
<path d="M592.2,975.3 Q595,988 594,1000 Q592,1010 589,1013"/>
<path d="M581.2,1020.8 L612.5,1013.0"/>
<path d="M651.8,998.8 L680.0,987.8"/>
<path d="M543.5,1030.2 L557.6,1027 M545,1032 L551.4,1036.5 L570,1032"/>
<path d="M690.4,583.1 Q691,579 693.3,578.2 L700.2,575.8 L703.1,577.7 L704.6,579.2 L715.9,566.5 L745.3,549.3 Q748,548.5 750.2,549.3 Q754,551 754.6,553.7 Q756,557 755.6,559.6 L754.6,577.3 Q753,584 750.2,587.1 L718.8,605.7 L707,607.6 Q704,608 703.6,609.6 L702.2,614.5 Q700,618 697.3,619.4 L691.4,619.4 Q689,618 689.4,614.5 L690.4,609.6 L701.2,602.7 Q703,600 703.1,598.8 L702.2,592 L699.2,591 L692.4,592.9 Q690,591 689.9,589 Z"/>
<path d="M744.3,561.1 Q748,562 748.2,564.5 Q749.5,568 748.7,571.4 L744.3,582.2 L719.8,594.9 Q714,596 712,592.9 Q710,590 711,586.1 Q713,579 716.9,574.3 Z"/>
<path d="M705.0,579.2 L717.8,567.5"/>
<ellipse cx="696.3" cy="584.6" rx="3.2" ry="2.4" transform="rotate(-60 696.3 584.6)"/>
<ellipse cx="696.8" cy="584.3" rx="1.5" ry="1.1" transform="rotate(-60 696.8 584.3)"/>
<ellipse cx="696.3" cy="613.5" rx="3.2" ry="2.4" transform="rotate(-60 696.3 613.5)"/>
<ellipse cx="696.8" cy="613.3" rx="1.5" ry="1.1" transform="rotate(-60 696.8 613.3)"/>
<ellipse cx="674.7" cy="572.4" rx="6.8" ry="4.6" transform="rotate(-62 674.7 572.4)"/>
<path d="M668.5,576.7 L668.0,576.2 L667.6,575.5 L667.3,574.8 L667.2,573.9 L667.1,573.0 L667.2,572.1 L667.4,571.1 L667.7,570.1 L668.2,569.2 L668.7,568.3 L669.3,567.4 L670.0,566.7 L670.7,566.1 L671.5,565.6 L672.2,565.2 L673.0,564.9"/>
<path d="M679.6,570.4 L688.4,576.3"/>
<path d="M677.2,578.2 L686.0,582.6"/>
<ellipse cx="687.4" cy="579.6" rx="3.8" ry="2.0" transform="rotate(-62 687.4 579.6)"/>
<path d="M678.2,576.3 L678.1,576.0 L678.0,575.6 L678.0,575.1 L678.0,574.7 L678.1,574.1 L678.3,573.6 L678.5,573.1 L678.7,572.6 L679.0,572.1 L679.4,571.6 L679.7,571.2 L680.1,570.8 L680.5,570.5 L680.8,570.3 L681.2,570.1 L681.6,570.0" stroke-width="0.9"/>
<path d="M679.8,577.3 L679.7,577.0 L679.6,576.6 L679.6,576.1 L679.6,575.7 L679.7,575.1 L679.9,574.6 L680.1,574.1 L680.3,573.6 L680.6,573.1 L681.0,572.6 L681.3,572.2 L681.7,571.8 L682.1,571.5 L682.4,571.3 L682.8,571.1 L683.2,571.0" stroke-width="0.9"/>
<path d="M681.4,578.3 L681.3,578.0 L681.2,577.6 L681.2,577.1 L681.2,576.7 L681.3,576.1 L681.5,575.6 L681.7,575.1 L681.9,574.6 L682.2,574.1 L682.6,573.6 L682.9,573.2 L683.3,572.8 L683.7,572.5 L684.0,572.3 L684.4,572.1 L684.8,572.0" stroke-width="0.9"/>
<path d="M683.0,579.3 L682.9,579.0 L682.8,578.6 L682.8,578.1 L682.8,577.7 L682.9,577.1 L683.1,576.6 L683.3,576.1 L683.5,575.6 L683.8,575.1 L684.2,574.6 L684.5,574.2 L684.9,573.8 L685.3,573.5 L685.6,573.3 L686.0,573.1 L686.4,573.0" stroke-width="0.9"/>
<path d="M684.6,580.3 L684.5,580.0 L684.4,579.6 L684.4,579.1 L684.4,578.7 L684.5,578.1 L684.7,577.6 L684.9,577.1 L685.1,576.6 L685.4,576.1 L685.8,575.6 L686.1,575.2 L686.5,574.8 L686.9,574.5 L687.2,574.3 L687.6,574.1 L688.0,574.0" stroke-width="0.9"/>
<path d="M623.8,403.8 L691.3,363.0"/>
<path d="M692.5,361.3 L797.5,299.8"/>
<path d="M807.5,294.0 L840.0,275.0"/>
<path d="M688.5,364.5 Q690,361 692.5,361.3"/>
<path d="M840,275 Q850,271.5 858,275.5 Q863,279 861,286.5 C857,302 840,318 822,330 Q805,342 797,355 L794,362"/>
<path d="M642.5,412.5 L792.5,326.5"/>
<path d="M801.0,321.5 L860.0,287.5"/>
<path d="M623.8,403.8 L625.0,407.5 L642.5,412.5"/>
<path d="M642.5,412.5 L641,417.5 L621,487.5 Q621.5,493 625,493.75 L635,490 Q637,494 638.75,495 L645,497.5 L646,502"/>
<path d="M645,495 L666.5,482.5 Q669,477 675,477 Q681,478 680,484 L676,488 L646,497"/>
<ellipse cx="673.7" cy="481.3" rx="3.5" ry="2.5" transform="rotate(-10 673.7 481.3)"/>
<path d="M676.25,476 Q680,440 692.5,412.5 Q706,388 730,375"/>
<path d="M637.5,440.0 L622.5,487.5"/>
<path d="M653.75,421.25 L683.75,406.25 L667.5,457.5 L640,472.5 Z"/>
<path d="M686.5,409.0 L670.0,460.0"/>
<path d="M642.5,475.0 L668.0,461.0"/>
<path d="M725,368.5 Q760,372 802.5,378.5 L802.5,382 Q760,378.5 725,372.5 Q723,370.5 725,368.5 Z"/>
<path d="M739,370 L742.5,357.5 L749,373.5 M764,373 L767.5,356.25 L774,376 M792,376 L795,358.75 L797,378.5"/>
<path d="M751,373.5 Q754,376 760,376.5 L758,374 Z M779,376.5 Q784,378.5 790,379 L788,376.5 Z" stroke-width="2"/>
<path d="M800,266 Q801,259.5 809.5,259.5 Q818,259.5 819,266 Q818,271 809.5,271.5 Q801,271 800,266 Z"/>
<path d="M804.0,271.0 L804.0,280.5 L810.0,281.5 L810.0,271.5"/>
<path d="M805.0,274.0 L809.0,275.0"/>
<path d="M805.0,277.0 L809.0,278.0"/>
<path d="M944.3,610.6 L962.2,599.6 Q966,598.6 969,602.4 L969.7,636.7 L951.2,647 Q945,646 941.6,640.8 L940.9,621.6 Q941.5,614 944.3,610.6 Z"/>
<path d="M945.5,611.5 L952.0,613.5"/>
<path d="M963.0,604.5 L968.5,602.5"/>
<path d="M951,614 Q948,628 949.8,646"/>
<path d="M941.0,625.0 L946.5,624.0"/>
<path d="M941.5,638.0 L947.0,634.5"/>
<path d="M953,628 Q957,614 963,615 Q966,618 964.5,628"/>
<path d="M950.5,637 Q950,626 956.5,619 M951,640 Q957,636 961,635.5"/>
<ellipse cx="876.0" cy="674.4" rx="4.8" ry="3.0" transform="rotate(60 876.0 674.4)"/>
<path d="M873.6,670.2 L915.4,645.8"/>
<path d="M878.4,678.6 L920.2,654.2"/>
<path d="M881.9,676.5 L881.3,676.7 L880.7,676.8 L880.1,676.6 L879.4,676.4 L878.7,675.9 L878.0,675.3 L877.4,674.6 L876.9,673.9 L876.5,673.0 L876.2,672.1 L876.0,671.3 L876.0,670.5 L876.1,669.7 L876.3,669.1 L876.6,668.6 L877.1,668.2" stroke-width="1.0"/>
<path d="M885.4,674.5 L884.8,674.7 L884.2,674.7 L883.6,674.6 L882.9,674.3 L882.2,673.9 L881.5,673.3 L880.9,672.6 L880.4,671.8 L880.0,671.0 L879.7,670.1 L879.5,669.2 L879.5,668.4 L879.6,667.7 L879.8,667.0 L880.1,666.5 L880.6,666.1" stroke-width="1.0"/>
<path d="M888.9,672.4 L888.3,672.6 L887.7,672.7 L887.1,672.5 L886.4,672.3 L885.7,671.8 L885.0,671.2 L884.4,670.5 L883.9,669.8 L883.5,668.9 L883.2,668.0 L883.0,667.2 L883.0,666.4 L883.1,665.6 L883.3,665.0 L883.6,664.5 L884.1,664.1" stroke-width="1.0"/>
<path d="M892.4,670.4 L891.8,670.6 L891.2,670.6 L890.6,670.5 L889.9,670.2 L889.2,669.8 L888.5,669.2 L887.9,668.5 L887.4,667.7 L887.0,666.9 L886.7,666.0 L886.5,665.1 L886.5,664.3 L886.6,663.6 L886.8,662.9 L887.1,662.4 L887.6,662.0" stroke-width="1.0"/>
<path d="M895.9,668.3 L895.3,668.5 L894.7,668.6 L894.1,668.4 L893.4,668.2 L892.7,667.7 L892.0,667.1 L891.4,666.4 L890.9,665.6 L890.5,664.8 L890.2,663.9 L890.0,663.1 L890.0,662.3 L890.1,661.5 L890.3,660.9 L890.6,660.4 L891.1,660.0" stroke-width="1.0"/>
<path d="M899.4,666.3 L898.8,666.5 L898.2,666.5 L897.6,666.4 L896.9,666.1 L896.2,665.7 L895.5,665.1 L894.9,664.4 L894.4,663.6 L894.0,662.8 L893.7,661.9 L893.5,661.0 L893.5,660.2 L893.6,659.5 L893.8,658.8 L894.1,658.3 L894.6,657.9" stroke-width="1.0"/>
<path d="M902.9,664.2 L902.3,664.4 L901.7,664.5 L901.1,664.3 L900.4,664.1 L899.7,663.6 L899.0,663.0 L898.4,662.3 L897.9,661.5 L897.5,660.7 L897.2,659.8 L897.0,659.0 L897.0,658.2 L897.1,657.4 L897.3,656.8 L897.6,656.3 L898.1,655.9" stroke-width="1.0"/>
<path d="M906.4,662.2 L905.8,662.4 L905.2,662.4 L904.6,662.3 L903.9,662.0 L903.2,661.6 L902.5,661.0 L901.9,660.3 L901.4,659.5 L901.0,658.7 L900.7,657.8 L900.5,656.9 L900.5,656.1 L900.6,655.4 L900.8,654.7 L901.1,654.2 L901.6,653.8" stroke-width="1.0"/>
<path d="M909.9,660.1 L909.3,660.3 L908.7,660.4 L908.1,660.2 L907.4,660.0 L906.7,659.5 L906.0,658.9 L905.4,658.2 L904.9,657.4 L904.5,656.6 L904.2,655.7 L904.0,654.9 L904.0,654.1 L904.1,653.3 L904.3,652.7 L904.6,652.2 L905.1,651.8" stroke-width="1.0"/>
<path d="M913.4,658.1 L912.8,658.3 L912.2,658.3 L911.6,658.2 L910.9,657.9 L910.2,657.5 L909.5,656.9 L908.9,656.2 L908.4,655.4 L908.0,654.6 L907.7,653.7 L907.5,652.8 L907.5,652.0 L907.6,651.3 L907.8,650.6 L908.1,650.1 L908.6,649.7" stroke-width="1.0"/>
<path d="M916.9,656.0 L916.3,656.2 L915.7,656.3 L915.1,656.1 L914.4,655.9 L913.7,655.4 L913.0,654.8 L912.4,654.1 L911.9,653.4 L911.5,652.5 L911.2,651.6 L911.0,650.8 L911.0,650.0 L911.1,649.2 L911.3,648.6 L911.6,648.1 L912.1,647.7" stroke-width="1.0"/>
<ellipse cx="926.0" cy="646.3" rx="8.3" ry="4.2" transform="rotate(60 926.0 646.3)"/>
<path d="M924.9,656.5 L924.2,656.8 L923.2,656.7 L922.2,656.4 L921.2,655.9 L920.1,655.0 L919.0,654.0 L918.0,652.8 L917.2,651.4 L916.4,650.0 L915.9,648.5 L915.5,647.1 L915.3,645.7 L915.3,644.5 L915.6,643.5 L916.0,642.7 L916.6,642.1"/>
<path d="M921.9,639.1 L916.6,642.1"/>
<path d="M930.1,653.5 L925.0,656.5"/>
<path d="M924.5,638.5 L919.5,641.5"/>
<path d="M927.5,655.0 L922.5,658.0"/>
<ellipse cx="861.2" cy="680.8" rx="8.0" ry="6.2" transform="rotate(60 861.2 680.8)"/>
<ellipse cx="862.0" cy="680.5" rx="4.2" ry="3.0" transform="rotate(60 862.0 680.5)"/>
<path d="M862.8,689.4 L861.7,689.9 L860.4,690.1 L859.1,690.0 L857.8,689.6 L856.6,688.9 L855.4,688.0 L854.3,686.9 L853.4,685.6 L852.8,684.2 L852.3,682.7 L852.1,681.2 L852.2,679.8 L852.5,678.5 L853.0,677.3 L853.8,676.3 L854.8,675.6"/>
<path d="M856.0,673.5 L857.0,676.0"/>
<path d="M864.0,689.0 L865.0,687.0"/>
<ellipse cx="763.6" cy="823.6" rx="7.4" ry="3.3" transform="rotate(0 763.6 823.6)"/>
<path d="M756.2,823.6 L756.2,829 M771,823.6 L771,829"/>
<ellipse cx="763.6" cy="831.4" rx="8.6" ry="3.2" transform="rotate(0 763.6 831.4)"/>
<path d="M759.5,826 Q760.5,830 760,833 M767.5,826 Q766.7,830 767,833"/>
<path d="M759.7,834 L759.7,847 Q763.6,850 767.5,847 L767.5,834"/>
<path d="M759.7,838.4 Q763.6,840 767.5,838.4 M759.7,841.5 Q763.6,843 767.5,841.5 M759.7,844.6 Q763.6,846 767.5,844.6"/>
<path d="M756.3,862.5 L756.3,869 Q757,872.3 762.9,872.5 Q769,872.3 769.7,869 L769.7,862.5"/>
<ellipse cx="762.9" cy="862.5" rx="6.7" ry="3.5" transform="rotate(0 762.9 862.5)"/>
<ellipse cx="762.9" cy="863.0" rx="3.5" ry="1.6" transform="rotate(0 762.9 863.0)" stroke-width="1.8"/>
</g>

</svg>
</body></html>
